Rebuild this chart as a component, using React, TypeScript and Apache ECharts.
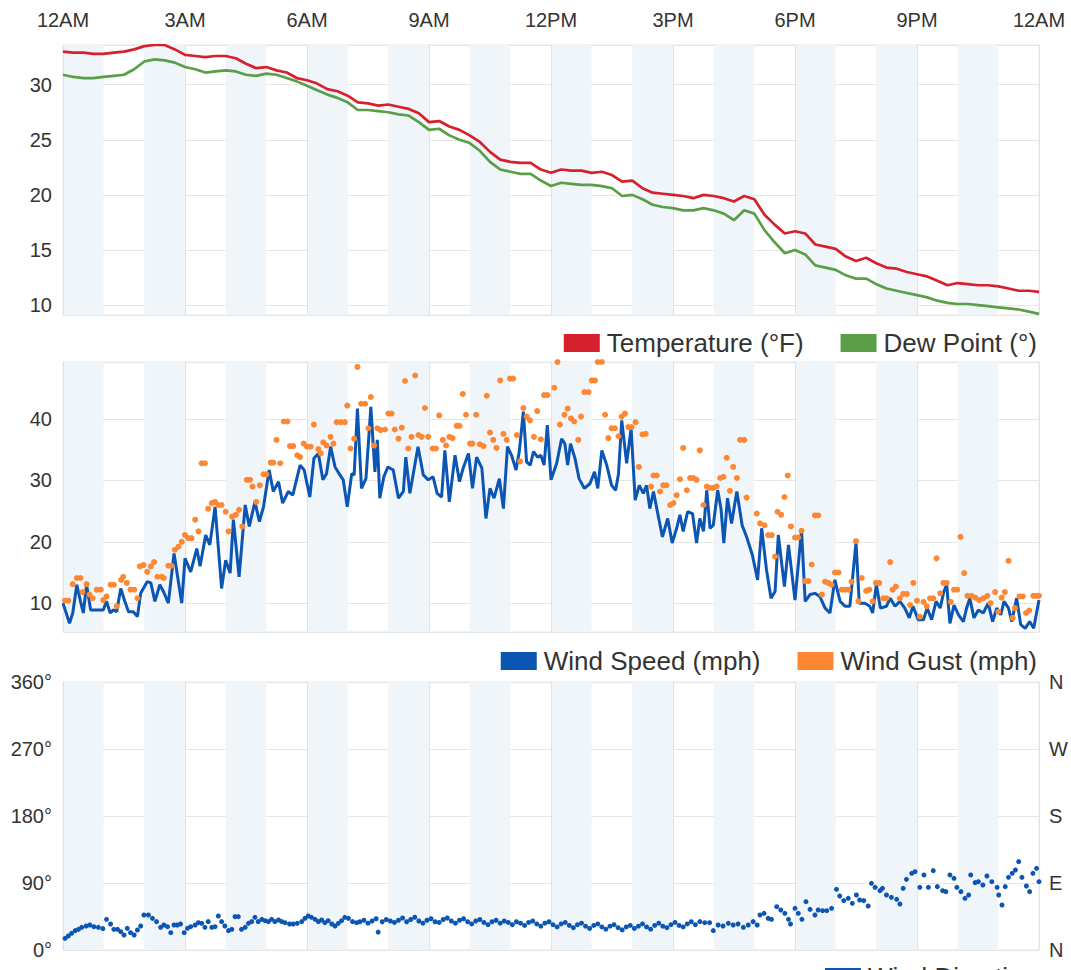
import React, { useEffect, useRef } from 'react';
import * as echarts from 'echarts';

const FONT = 'Arial, "Liberation Sans", Helvetica, sans-serif';

const timeLabels = ['12AM', '3AM', '6AM', '9AM', '12PM', '3PM', '6PM', '9PM', '12AM'];
const compassLabels = ['N', 'E', 'S', 'W', 'N'];

// 15-minute samples, 12AM .. 12AM
const tempF = [
  33.0, 32.9, 32.9, 32.8, 32.8, 32.9, 33.0, 33.2, 33.5, 33.6, 33.6, 33.2,
  32.7, 32.6, 32.5, 32.6, 32.6, 32.4, 31.9, 31.5, 31.6, 31.3, 31.1, 30.6,
  30.4, 30.1, 29.6, 29.4, 29.0, 28.4, 28.3, 28.1, 28.2, 28.0, 27.8, 27.4,
  26.6, 26.7, 26.2, 25.9, 25.4, 24.8, 23.9, 23.2, 23.0, 22.9, 22.9, 22.3,
  22.0, 22.3, 22.2, 22.2, 22.0, 22.1, 21.8, 21.2, 21.3, 20.6, 20.2, 20.1,
  20.0, 19.9, 19.7, 20.0, 19.9, 19.7, 19.4, 19.9, 19.6, 18.2, 17.3, 16.5,
  16.7, 16.5, 15.5, 15.3, 15.1, 14.4, 14.0, 14.3, 13.8, 13.4, 13.3, 13.0,
  12.8, 12.6, 12.2, 11.8, 12.0, 11.9, 11.8, 11.8, 11.7, 11.5, 11.3, 11.3,
  11.2,
];
const dewF = [
  30.9, 30.7, 30.6, 30.6, 30.7, 30.8, 30.9, 31.4, 32.1, 32.3, 32.2, 32.0,
  31.6, 31.4, 31.1, 31.2, 31.3, 31.2, 30.9, 30.8, 31.0, 30.9, 30.6, 30.3,
  29.9, 29.5, 29.1, 28.8, 28.4, 27.7, 27.7, 27.6, 27.5, 27.3, 27.2, 26.6,
  25.9, 26.0, 25.4, 25.0, 24.7, 24.0, 23.0, 22.3, 22.1, 21.9, 21.9, 21.3,
  20.8, 21.1, 21.0, 20.9, 20.9, 20.8, 20.6, 19.9, 20.0, 19.6, 19.1, 18.9,
  18.8, 18.6, 18.6, 18.8, 18.6, 18.3, 17.7, 18.6, 18.3, 16.8, 15.7, 14.7,
  15.0, 14.6, 13.6, 13.4, 13.2, 12.7, 12.4, 12.4, 11.9, 11.5, 11.3, 11.1,
  10.9, 10.7, 10.4, 10.2, 10.1, 10.1, 10.0, 9.9, 9.8, 9.7, 9.6, 9.4,
  9.2,
];

// [hour, mph]
const windSpeed = [
  [0, 10.0], [0.16, 6.7], [0.24, 8.4], [0.34, 13.0], [0.43, 10.3], [0.5, 8.4], [0.58, 13.0], [0.68, 8.9],
  [0.83, 8.9], [0.99, 8.9], [1.07, 10.3], [1.16, 8.4], [1.24, 8.9], [1.32, 8.6], [1.42, 12.4], [1.52, 10.3],
  [1.61, 8.6], [1.73, 8.6], [1.83, 7.8], [1.91, 11.6], [2.07, 13.5], [2.16, 13.3], [2.26, 10.3], [2.38, 13.0],
  [2.47, 11.9], [2.59, 10.0], [2.73, 18.1], [2.92, 10.0], [3.0, 17.3], [3.14, 15.1], [3.29, 18.9], [3.37, 16.0],
  [3.51, 21.1], [3.61, 19.5], [3.74, 25.7], [3.9, 12.4], [4.0, 17.0], [4.11, 14.9], [4.19, 23.6], [4.33, 14.3],
  [4.48, 26.0], [4.58, 22.5], [4.72, 26.5], [4.83, 23.3], [4.93, 25.7], [5.07, 31.7], [5.17, 28.2], [5.3, 29.8],
  [5.4, 26.3], [5.54, 28.2], [5.65, 27.6], [5.83, 32.5], [5.93, 31.7], [6.07, 27.3], [6.17, 33.6], [6.28, 34.4],
  [6.39, 30.1], [6.48, 31.1], [6.58, 35.5], [6.69, 32.2], [6.79, 31.1], [6.89, 30.1], [6.99, 25.7], [7.1, 31.1],
  [7.16, 30.9], [7.24, 41.7], [7.34, 28.7], [7.45, 30.3], [7.57, 42.0], [7.67, 31.4], [7.73, 36.6], [7.79, 27.1],
  [7.89, 30.6], [7.99, 32.2], [8.12, 31.7], [8.25, 27.1], [8.37, 28.2], [8.43, 33.8], [8.53, 27.9], [8.73, 35.5],
  [8.86, 30.9], [8.98, 30.1], [9.1, 30.6], [9.2, 27.9], [9.31, 27.3], [9.39, 34.9], [9.5, 26.5], [9.64, 34.1],
  [9.75, 29.8], [9.84, 32.0], [9.97, 34.4], [10.07, 28.7], [10.17, 33.8], [10.3, 32.0], [10.4, 23.8], [10.5, 28.7],
  [10.6, 27.1], [10.73, 30.3], [10.83, 25.4], [10.93, 35.5], [11.03, 34.1], [11.14, 31.7], [11.22, 34.7], [11.32, 41.2],
  [11.4, 33.0], [11.49, 32.5], [11.57, 34.7], [11.67, 33.8], [11.75, 34.1], [11.83, 32.5], [11.91, 39.0], [12.0, 30.1],
  [12.14, 32.8], [12.26, 36.8], [12.34, 36.0], [12.41, 32.5], [12.48, 36.0], [12.59, 33.6], [12.69, 30.3], [12.82, 28.7],
  [12.96, 29.5], [13.07, 31.4], [13.15, 28.7], [13.25, 34.9], [13.37, 32.5], [13.49, 29.2], [13.59, 28.4], [13.66, 31.1],
  [13.74, 39.8], [13.86, 32.8], [13.97, 38.5], [14.07, 26.8], [14.17, 29.2], [14.27, 27.9], [14.35, 29.2], [14.43, 25.4],
  [14.52, 28.2], [14.64, 24.1], [14.74, 20.8], [14.87, 23.8], [14.98, 19.8], [15.09, 22.2], [15.17, 24.4], [15.25, 21.7],
  [15.36, 24.9], [15.48, 24.6], [15.58, 19.8], [15.66, 23.8], [15.75, 21.7], [15.83, 28.4], [15.91, 22.2], [15.99, 22.7],
  [16.1, 28.4], [16.18, 25.4], [16.25, 19.8], [16.34, 27.1], [16.44, 23.0], [16.57, 28.2], [16.7, 22.7], [16.81, 20.8],
  [16.95, 17.9], [17.08, 13.8], [17.18, 22.2], [17.3, 15.4], [17.41, 10.8], [17.51, 11.9], [17.59, 21.1], [17.74, 12.7],
  [17.84, 19.5], [18.0, 10.5], [18.16, 21.9], [18.25, 10.3], [18.37, 11.4], [18.49, 11.6], [18.61, 11.1], [18.74, 9.2],
  [18.86, 8.4], [18.98, 13.8], [19.11, 10.3], [19.23, 9.5], [19.35, 9.5], [19.5, 20.0], [19.58, 10.0], [19.72, 10.0],
  [19.84, 9.5], [19.91, 8.4], [20.0, 13.0], [20.1, 9.2], [20.25, 9.5], [20.34, 10.8], [20.46, 9.5], [20.58, 10.3],
  [20.7, 9.2], [20.81, 7.6], [20.9, 9.5], [21.03, 7.3], [21.16, 7.3], [21.25, 9.2], [21.36, 7.3], [21.47, 10.3],
  [21.57, 9.2], [21.66, 11.9], [21.73, 13.0], [21.81, 6.7], [21.91, 9.7], [22.02, 8.1], [22.14, 7.0], [22.22, 9.2],
  [22.3, 10.8], [22.4, 7.6], [22.51, 8.9], [22.63, 8.4], [22.75, 10.0], [22.86, 7.0], [22.96, 9.2], [23.06, 8.1],
  [23.14, 10.3], [23.25, 9.2], [23.33, 7.0], [23.45, 10.8], [23.55, 6.5], [23.66, 5.9], [23.77, 7.0], [23.87, 5.9],
  [24.0, 10.5],
];

// [hour, mph]
const windGust = [
  [0.05, 10.4], [0.13, 10.4], [0.24, 13.1], [0.34, 14.1], [0.43, 14.1], [0.48, 11.8], [0.58, 13.1], [0.65, 11.4],
  [0.73, 10.8], [0.83, 12.2], [0.93, 12.2], [0.99, 10.5], [1.07, 11.1], [1.17, 13.0], [1.25, 13.0], [1.32, 9.5],
  [1.43, 13.8], [1.48, 14.3], [1.57, 13.3], [1.66, 12.2], [1.75, 12.2], [1.83, 10.8], [1.89, 16.0], [1.98, 16.2],
  [2.07, 15.1], [2.16, 16.0], [2.24, 16.7], [2.32, 14.3], [2.43, 14.3], [2.48, 14.1], [2.59, 16.1], [2.67, 16.1],
  [2.75, 18.7], [2.84, 19.2], [2.92, 20.0], [3.0, 21.1], [3.08, 20.6], [3.16, 20.6], [3.25, 23.6], [3.33, 21.7],
  [3.41, 32.8], [3.49, 32.8], [3.57, 25.4], [3.66, 26.3], [3.74, 26.5], [3.82, 26.0], [3.9, 26.0], [4.0, 24.9],
  [4.07, 21.7], [4.16, 24.1], [4.25, 24.4], [4.33, 25.2], [4.41, 22.5], [4.52, 30.1], [4.6, 30.1], [4.66, 29.0],
  [4.75, 26.5], [4.84, 29.2], [4.93, 31.0], [5.0, 31.0], [5.11, 32.9], [5.17, 32.9], [5.25, 36.6], [5.34, 32.8],
  [5.43, 39.6], [5.52, 39.6], [5.58, 35.6], [5.66, 35.6], [5.76, 34.1], [5.83, 33.8], [5.92, 36.0], [6.0, 35.5],
  [6.09, 35.5], [6.17, 39.1], [6.28, 35.1], [6.34, 34.4], [6.4, 36.2], [6.48, 35.7], [6.58, 37.1], [6.65, 36.0],
  [6.73, 39.5], [6.83, 39.5], [6.93, 39.5], [6.99, 42.2], [7.07, 35.2], [7.16, 36.8], [7.24, 48.5], [7.33, 42.5],
  [7.43, 42.5], [7.51, 38.5], [7.57, 43.6], [7.65, 35.7], [7.73, 38.5], [7.81, 38.2], [7.92, 38.3], [8.0, 40.9],
  [8.08, 40.9], [8.16, 38.3], [8.25, 36.8], [8.33, 38.6], [8.41, 46.2], [8.49, 35.2], [8.57, 37.1], [8.66, 47.1],
  [8.74, 37.4], [8.82, 37.1], [8.9, 41.8], [8.98, 37.1], [9.09, 35.2], [9.17, 35.2], [9.25, 40.6], [9.34, 36.6],
  [9.42, 35.7], [9.5, 37.1], [9.58, 36.9], [9.68, 38.9], [9.75, 38.9], [9.83, 44.1], [9.91, 40.7], [10.01, 36.0],
  [10.07, 36.0], [10.16, 40.7], [10.25, 35.9], [10.34, 35.6], [10.42, 43.8], [10.5, 37.8], [10.58, 36.6], [10.66, 35.3],
  [10.75, 46.3], [10.83, 37.6], [10.91, 36.6], [10.99, 46.6], [11.07, 46.6], [11.16, 37.4], [11.24, 33.1], [11.32, 41.8],
  [11.4, 40.4], [11.48, 39.8], [11.58, 37.1], [11.66, 41.3], [11.75, 36.7], [11.83, 43.9], [11.91, 43.9], [12.08, 45.1],
  [12.16, 49.3], [12.22, 39.1], [12.33, 40.7], [12.41, 41.7], [12.49, 40.1], [12.57, 39.6], [12.67, 36.6], [12.74, 40.4],
  [12.82, 44.4], [12.92, 44.4], [13.0, 46.3], [13.08, 46.3], [13.15, 49.3], [13.25, 49.3], [13.33, 40.7], [13.41, 36.9],
  [13.49, 38.5], [13.57, 38.5], [13.66, 37.2], [13.74, 40.4], [13.82, 40.9], [13.9, 38.7], [13.98, 38.7], [14.08, 39.5],
  [14.16, 32.2], [14.25, 37.5], [14.33, 37.6], [14.46, 29.0], [14.52, 30.8], [14.6, 30.8], [14.68, 28.2], [14.76, 29.2],
  [14.84, 29.2], [14.93, 26.0], [15.01, 26.3], [15.09, 27.6], [15.17, 30.2], [15.25, 35.3], [15.34, 28.4], [15.42, 30.4],
  [15.5, 30.4], [15.58, 30.1], [15.66, 34.9], [15.75, 26.0], [15.83, 29.0], [15.91, 28.8], [15.99, 28.8], [16.07, 29.0],
  [16.16, 30.4], [16.24, 30.6], [16.32, 33.7], [16.4, 28.3], [16.48, 32.2], [16.57, 30.4], [16.65, 36.6], [16.75, 36.6],
  [16.81, 27.2], [17.06, 24.6], [17.14, 23.0], [17.25, 22.7], [17.34, 21.1], [17.43, 21.1], [17.51, 17.6], [17.57, 24.9],
  [17.66, 24.4], [17.74, 27.3], [17.82, 30.8], [17.9, 22.5], [18.0, 20.7], [18.08, 20.7], [18.16, 21.8], [18.25, 13.6],
  [18.33, 13.6], [18.41, 16.3], [18.49, 24.3], [18.57, 24.3], [18.66, 11.4], [18.74, 13.5], [18.82, 13.3], [18.9, 13.0],
  [18.98, 15.0], [19.07, 15.0], [19.15, 12.2], [19.23, 12.2], [19.31, 12.2], [19.39, 13.5], [19.5, 20.1], [19.56, 10.3],
  [19.64, 14.1], [19.75, 12.0], [19.83, 12.2], [19.91, 10.3], [19.99, 13.3], [20.07, 13.3], [20.17, 10.8], [20.25, 10.8],
  [20.34, 16.7], [20.4, 12.2], [20.48, 12.7], [20.58, 10.8], [20.66, 11.5], [20.75, 11.5], [20.83, 9.7], [20.91, 13.3],
  [21.0, 10.4], [21.07, 7.8], [21.16, 10.2], [21.24, 9.5], [21.32, 10.8], [21.4, 10.8], [21.48, 17.3], [21.57, 11.6],
  [21.65, 13.3], [21.73, 13.3], [21.83, 10.2], [21.91, 12.2], [21.99, 12.2], [22.07, 20.8], [22.16, 14.9], [22.24, 11.2],
  [22.34, 11.2], [22.43, 10.9], [22.53, 10.5], [22.63, 10.8], [22.73, 11.2], [22.81, 10.0], [22.92, 11.8], [23.0, 8.6],
  [23.08, 10.9], [23.16, 11.8], [23.25, 16.9], [23.35, 7.6], [23.41, 9.2], [23.52, 11.1], [23.6, 11.1], [23.68, 8.4],
  [23.76, 8.8], [23.86, 11.2], [23.94, 11.2], [24.0, 11.2],
];

// [hour, degrees]
const windDir = [
  [0.05, 15.7], [0.13, 18.8], [0.21, 22.4], [0.3, 26.0], [0.38, 27.8], [0.46, 30.5], [0.57, 32.2], [0.66, 33.6],
  [0.76, 31.3], [0.87, 30.5], [0.98, 28.7], [1.07, 41.2], [1.17, 34.9], [1.25, 27.8], [1.34, 27.8], [1.42, 24.6],
  [1.5, 20.2], [1.58, 29.1], [1.66, 23.3], [1.75, 20.2], [1.83, 26.9], [1.91, 32.2], [1.99, 47.0], [2.1, 47.0],
  [2.2, 42.5], [2.3, 38.1], [2.4, 30.5], [2.48, 33.6], [2.57, 31.3], [2.65, 23.3], [2.73, 33.6], [2.81, 33.6],
  [2.89, 34.9], [2.98, 23.3], [3.06, 29.1], [3.14, 31.3], [3.25, 33.6], [3.33, 36.7], [3.41, 35.8], [3.49, 30.5],
  [3.57, 38.1], [3.66, 30.5], [3.74, 31.3], [3.82, 45.7], [3.9, 38.1], [3.98, 32.2], [4.07, 26.0], [4.15, 27.8],
  [4.23, 44.8], [4.31, 44.8], [4.39, 27.8], [4.48, 30.5], [4.56, 35.8], [4.64, 38.1], [4.72, 43.9], [4.8, 38.1],
  [4.89, 41.2], [4.97, 39.4], [5.05, 38.1], [5.13, 41.2], [5.21, 38.1], [5.3, 40.3], [5.38, 38.1], [5.46, 36.7],
  [5.57, 34.9], [5.66, 34.9], [5.76, 35.8], [5.87, 38.1], [5.95, 42.5], [6.03, 45.7], [6.11, 43.9], [6.2, 41.2],
  [6.28, 38.1], [6.36, 40.3], [6.44, 36.7], [6.52, 39.4], [6.61, 34.9], [6.69, 32.2], [6.77, 35.8], [6.85, 39.4],
  [6.93, 43.9], [7.02, 42.5], [7.12, 38.1], [7.22, 36.7], [7.3, 38], [7.4, 40], [7.5, 36], [7.6, 39],
  [7.7, 42], [7.75, 24], [7.85, 38], [7.95, 41], [8.05, 39], [8.15, 37], [8.25, 40], [8.35, 43],
  [8.45, 38], [8.55, 41], [8.65, 44], [8.75, 39], [8.85, 36], [8.95, 40], [9.05, 42], [9.15, 38],
  [9.25, 37], [9.35, 41], [9.45, 43], [9.55, 39], [9.65, 36], [9.75, 40], [9.85, 42], [9.95, 38],
  [10.05, 35], [10.15, 39], [10.25, 41], [10.35, 37], [10.45, 34], [10.55, 38], [10.65, 40], [10.75, 36],
  [10.85, 39], [10.95, 37], [11.05, 34], [11.15, 38], [11.25, 36], [11.35, 33], [11.45, 37], [11.55, 39],
  [11.65, 35], [11.75, 32], [11.85, 36], [11.95, 38], [12.05, 34], [12.15, 31], [12.25, 35], [12.35, 37],
  [12.45, 33], [12.55, 30], [12.65, 34], [12.75, 36], [12.85, 32], [12.95, 29], [13.05, 33], [13.15, 35],
  [13.25, 31], [13.35, 28], [13.45, 32], [13.55, 34], [13.65, 30], [13.75, 27], [13.85, 31], [13.95, 33],
  [14.05, 29], [14.15, 32], [14.25, 35], [14.35, 31], [14.45, 28], [14.55, 33], [14.65, 36], [14.75, 32],
  [14.85, 30], [14.95, 34], [15.05, 37], [15.15, 33], [15.25, 31], [15.35, 35], [15.45, 38], [15.55, 34],
  [15.66, 38.1], [15.78, 36.7], [15.9, 36.7], [15.99, 26.0], [16.11, 33.6], [16.23, 32.2], [16.36, 35.8], [16.48, 33.6],
  [16.6, 34.9], [16.73, 30.5], [16.85, 33.6], [16.97, 38.1], [17.07, 33.6], [17.14, 47.0], [17.24, 49.3], [17.34, 42.5],
  [17.42, 41.2], [17.55, 58.2], [17.65, 53.7], [17.75, 49.3], [17.84, 41.2], [17.89, 34.9], [18.0, 56.0], [18.08, 49.3],
  [18.17, 41.2], [18.27, 64.9], [18.37, 54.6], [18.49, 47.0], [18.57, 53.7], [18.68, 52.8], [18.78, 52.8], [18.9, 56.0],
  [19.02, 81.5], [19.1, 72.5], [19.2, 66.3], [19.31, 69.4], [19.41, 62.7], [19.51, 73.9], [19.59, 67.2], [19.69, 66.3],
  [19.8, 59.1], [19.88, 89.6], [19.97, 84.2], [20.09, 79.7], [20.15, 82.8], [20.25, 73.9], [20.37, 70.8], [20.5, 68.1],
  [20.58, 61.8], [20.66, 82.8], [20.74, 94.9], [20.87, 103.0], [20.95, 105.2], [21.07, 84.2], [21.17, 100.8], [21.28, 84.2],
  [21.4, 106.6], [21.5, 85.1], [21.63, 79.7], [21.71, 78.4], [21.81, 100.8], [21.91, 96.3], [21.98, 84.2], [22.08, 78.4],
  [22.18, 69.4], [22.27, 73.9], [22.32, 100.8], [22.43, 90.5], [22.51, 91.8], [22.62, 87.3], [22.72, 99.4], [22.84, 91.8],
  [22.97, 84.2], [23.01, 73.9], [23.09, 60.5], [23.17, 85.1], [23.25, 97.6], [23.34, 103.0], [23.42, 107.5], [23.5, 118.7],
  [23.58, 97.6], [23.69, 86.0], [23.77, 78.4], [23.85, 103.0], [23.94, 109.7], [24.0, 91.8],
];

const COLORS = {
  temp: '#d7202d',
  dew: '#5a9e48',
  speed: '#0b55b3',
  gust: '#fd8732',
  dir: '#0b55b3',
  band: '#f0f5fa',
  grid: '#e6e6e6',
  text: '#333333',
};

const GRIDS = [
  { top: 45, height: 270 },
  { top: 362, height: 270 },
  { top: 682, height: 268 },
];

function buildOption() {
  const grid = GRIDS.map((g) => ({
    left: 63,
    right: 32,
    top: g.top,
    height: g.height,
    show: true,
    borderColor: COLORS.grid,
    borderWidth: 1,
    backgroundColor: 'transparent',
  }));

  const xAxis: any[] = [];
  GRIDS.forEach((_, i) => {
    // hourly alternating bands
    xAxis.push({
      type: 'value',
      gridIndex: i,
      min: 0,
      max: 24,
      interval: 1,
      position: 'bottom',
      axisLine: { show: false },
      axisTick: { show: false },
      axisLabel: { show: false },
      splitLine: { show: false },
      splitArea: { show: true, areaStyle: { color: [COLORS.band, 'rgba(255,255,255,0)'] } },
    });
    // 3-hour grid lines and labels
    xAxis.push({
      type: 'value',
      gridIndex: i,
      min: 0,
      max: 24,
      interval: 3,
      position: 'top',
      axisLine: { show: false },
      axisTick: { show: false },
      axisLabel:
        i === 0
          ? {
              show: true,
              margin: 15,
              fontSize: 20,
              fontFamily: FONT,
              color: COLORS.text,
              showMinLabel: true,
              showMaxLabel: true,
              formatter: (v: number) => timeLabels[Math.round(v / 3)] ?? '',
            }
          : { show: false },
      splitLine: { show: true, lineStyle: { color: '#e2e2e2', width: 1 } },
    });
  });

  const yLabel = (fmt: (v: number) => string) => ({
    fontSize: 20,
    fontFamily: FONT,
    color: COLORS.text,
    margin: 11,
    formatter: fmt,
  });

  const yAxis: any[] = [
    {
      type: 'value',
      gridIndex: 0,
      min: 9.1,
      max: 33.6,
      splitNumber: 5,
      axisLine: { show: false },
      axisTick: { show: false },
      axisLabel: { ...yLabel((v: number) => (Math.abs(v % 5) < 1e-6 ? String(v) : '')), showMinLabel: false, showMaxLabel: false },
      splitLine: { lineStyle: { color: COLORS.grid } },
    },
    {
      type: 'value',
      gridIndex: 1,
      min: 5.3,
      max: 49.3,
      splitNumber: 5,
      axisLine: { show: false },
      axisTick: { show: false },
      axisLabel: { ...yLabel((v: number) => (Math.abs(v % 10) < 1e-6 ? String(v) : '')), showMinLabel: false, showMaxLabel: false },
      splitLine: { lineStyle: { color: COLORS.grid } },
    },
    {
      type: 'value',
      gridIndex: 2,
      min: 0,
      max: 360,
      interval: 90,
      axisLine: { show: false },
      axisTick: { show: false },
      axisLabel: yLabel((v: number) => `${v}°`),
      splitLine: { lineStyle: { color: COLORS.grid } },
    },
    {
      type: 'value',
      gridIndex: 2,
      position: 'right',
      min: 0,
      max: 360,
      interval: 90,
      axisLine: { show: false },
      axisTick: { show: false },
      axisLabel: { ...yLabel((v: number) => compassLabels[Math.round(v / 90)] ?? ''), margin: 10 },
      splitLine: { show: false },
    },
  ];

  const legendBase = {
    right: 34,
    orient: 'horizontal',
    icon: 'rect',
    itemWidth: 36,
    itemHeight: 18,
    itemGap: 37,
    padding: 0,
    selectedMode: false,
    textStyle: { fontSize: 26, fontFamily: FONT, color: COLORS.text, padding: [0, 0, 0, 2] },
  };

  const legend = [
    { ...legendBase, top: 330, data: ['Temperature (°F)', 'Dew Point (°)'] },
    { ...legendBase, top: 648, data: ['Wind Speed (mph)', 'Wind Gust (mph)'] },
    { ...legendBase, top: 964, data: ['Wind Direction'] },
  ];

  const series: any[] = [
    {
      name: 'Temperature (°F)',
      type: 'line',
      xAxisIndex: 1,
      yAxisIndex: 0,
      showSymbol: false,
      symbol: 'none',
      color: COLORS.temp,
      lineStyle: { width: 2.7, color: COLORS.temp },
      data: tempF.map((v, i) => [i * 0.25, v]),
      z: 3,
    },
    {
      name: 'Dew Point (°)',
      type: 'line',
      xAxisIndex: 1,
      yAxisIndex: 0,
      showSymbol: false,
      symbol: 'none',
      color: COLORS.dew,
      lineStyle: { width: 2.7, color: COLORS.dew },
      data: dewF.map((v, i) => [i * 0.25, v]),
      z: 2,
    },
    {
      name: 'Wind Speed (mph)',
      type: 'line',
      xAxisIndex: 3,
      yAxisIndex: 1,
      showSymbol: false,
      symbol: 'none',
      color: COLORS.speed,
      lineStyle: { width: 3, color: COLORS.speed },
      data: windSpeed,
      z: 2,
    },
    {
      name: 'Wind Gust (mph)',
      type: 'scatter',
      xAxisIndex: 3,
      yAxisIndex: 1,
      symbol: 'circle',
      symbolSize: 6,
      color: COLORS.gust,
      itemStyle: { color: COLORS.gust, opacity: 1 },
      data: windGust,
      z: 3,
    },
    {
      name: 'Wind Direction',
      type: 'scatter',
      xAxisIndex: 5,
      yAxisIndex: 2,
      symbol: 'circle',
      symbolSize: 5,
      color: COLORS.dir,
      itemStyle: { color: COLORS.dir, opacity: 1 },
      data: windDir,
      z: 3,
    },
  ];

  return {
    animation: false,
    backgroundColor: '#ffffff',
    textStyle: { fontFamily: FONT },
    grid,
    xAxis,
    yAxis,
    legend,
    series,
  };
}

export default function App() {
  const ref = useRef<HTMLDivElement>(null);

  useEffect(() => {
    if (!ref.current) return;
    const chart = echarts.init(ref.current, undefined, { renderer: 'svg' });
    chart.setOption(buildOption() as any);
    return () => {
      chart.dispose();
    };
  }, []);

  return (
    <div
      ref={ref}
      style={{ position: 'fixed', left: 0, top: 0, width: 1071, height: 970, background: '#fff' }}
    />
  );
}
